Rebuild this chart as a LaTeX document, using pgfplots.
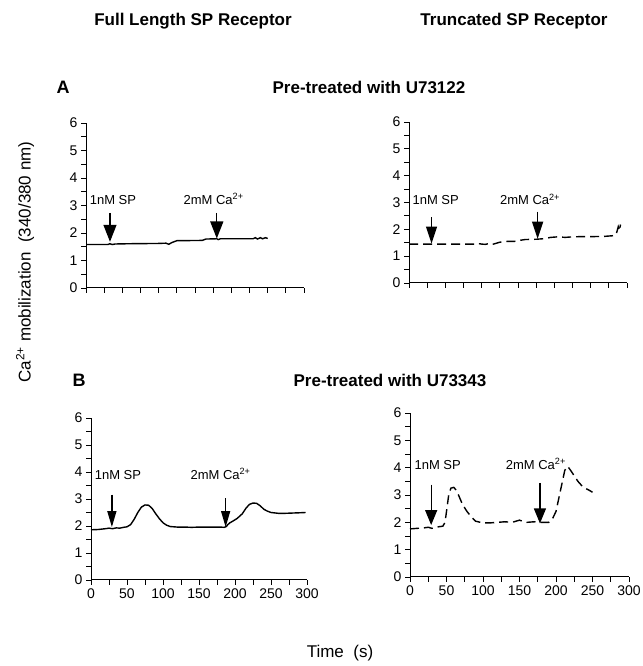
\documentclass[border=0pt]{standalone}
\usepackage{pgfplots}
\pgfplotsset{compat=1.18}
\usepackage{fontspec}
\setmainfont{Liberation Sans}
\usetikzlibrary{arrows.meta}

\pgfplotsset{
  trace/.style={
    scale only axis, anchor=south west, clip=false,
    axis x line=bottom, axis y line=left, axis line style={-, line width=1pt},
    xmin=0, xmax=300, ymin=0, ymax=6,
    xtick={0,50,...,300}, minor x tick num=1,
    ytick={0,1,...,6}, minor y tick num=1,
    tick align=outside, major tick length=5pt, minor tick length=5pt,
    tick style={black, line width=0.9pt}, minor tick style={black, line width=0.9pt},
    tick label style={font=\fontsize{14}{14}\selectfont},
    /pgf/number format/assume math mode=true,
  },
  notick/.style={xticklabels={}},
  solidtrace/.style={black, line width=1.4pt},
  dashtrace/.style={black, line width=1.4pt, dash pattern=on 9pt off 5pt},
}
\tikzset{
  lab/.style={anchor=base west, inner sep=0pt, font=\fontsize{13}{13}\selectfont},
}

\begin{document}
\begin{tikzpicture}[x=1pt, y=1pt]
\useasboundingbox (0,0) rectangle (642,666);

% column and row headings
\node[font=\bfseries\fontsize{17}{17}\selectfont] at (193,645) {Full Length SP Receptor};
\node[font=\bfseries\fontsize{17}{17}\selectfont] at (514,645) {Truncated SP Receptor};
\node[font=\bfseries\fontsize{18}{18}\selectfont] at (63,579) {A};
\node[font=\bfseries\fontsize{17}{17}\selectfont] at (369,579) {Pre-treated with U73122};
\node[font=\bfseries\fontsize{18}{18}\selectfont] at (79,286) {B};
\node[font=\bfseries\fontsize{17}{17}\selectfont] at (390,286) {Pre-treated with U73343};
\node[rotate=90, font=\fontsize{17}{17}\selectfont] at (25,404) {Ca\textsuperscript{2+} mobilization\ \ (340/380 nm)};
\node[font=\fontsize{17}{17}\selectfont] at (340,13) {Time\ \ (s)};

% A, full length
\begin{axis}[trace, notick, at={(86pt,378pt)}, width=218pt, height=165pt]
\addplot[solidtrace] coordinates {(0,1.58) (30,1.58) (33,1.61) (36,1.58) (40,1.60) (60,1.61) (100,1.62) (110,1.63) (114,1.59) (118,1.65) (125,1.72) (160,1.73) (165,1.78) (180,1.79) (182,1.76) (185,1.79) (230,1.79) (233,1.83) (236,1.78) (240,1.83) (243,1.79) (247,1.83) (250,1.80)};
\draw[line width=1.3pt, -{Triangle[length=17pt, width=13pt]}] (axis cs:33,2.73) -- (axis cs:33,1.68);
\draw[line width=1.3pt, -{Triangle[length=17pt, width=13pt]}] (axis cs:180,2.73) -- (axis cs:180,1.80);
\node[lab] at (axis cs:5,3.05) {1nM SP};
\node[lab] at (axis cs:134,3.05) {2mM Ca\textsuperscript{2+}};
\end{axis}

% A, truncated
\begin{axis}[trace, notick, at={(409pt,383pt)}, width=218pt, height=161pt]
\addplot[dashtrace] coordinates {(0,1.45) (50,1.45) (90,1.45) (95,1.47) (100,1.45) (105,1.44) (110,1.47) (115,1.44) (125,1.52) (135,1.55) (145,1.55) (150,1.58) (160,1.62) (175,1.63) (185,1.65) (195,1.70) (205,1.72) (215,1.70) (225,1.72) (240,1.73) (255,1.73) (270,1.74) (280,1.76) (285,1.80) (288,2.10) (290,1.95) (291,2.18)};
\draw[line width=1.3pt, -{Triangle[length=17pt, width=11pt]}] (axis cs:31,2.45) -- (axis cs:31,1.47);
\draw[line width=1.3pt, -{Triangle[length=17pt, width=11pt]}] (axis cs:177,2.66) -- (axis cs:177,1.65);
\node[lab] at (axis cs:4.6,2.93) {1nM SP};
\node[lab] at (axis cs:125,2.93) {2mM Ca\textsuperscript{2+}};
\end{axis}

% B, full length
\begin{axis}[trace, at={(91pt,86pt)}, width=216pt, height=162pt]
\addplot[solidtrace] coordinates {(0,1.86) (10,1.87) (20,1.90) (25,1.92) (30,1.90) (35,1.93) (40,1.92) (45,1.95) (50,1.97) (55,2.05) (60,2.25) (65,2.50) (70,2.70) (75,2.78) (80,2.77) (85,2.65) (90,2.45) (95,2.27) (100,2.12) (105,2.03) (110,1.98) (120,1.96) (130,1.96) (140,1.95) (150,1.96) (160,1.96) (170,1.96) (180,1.96) (185,1.95) (188,1.98) (190,2.05) (193,2.12) (197,2.18) (203,2.28) (210,2.45) (215,2.65) (220,2.80) (225,2.85) (230,2.84) (235,2.75) (240,2.62) (245,2.55) (250,2.50) (260,2.47) (270,2.47) (280,2.48) (290,2.49) (298,2.50)};
\draw[line width=1.3pt, -{Triangle[length=16pt, width=9pt]}] (axis cs:29,3.16) -- (axis cs:29,1.96);
\draw[line width=1.3pt, -{Triangle[length=16pt, width=9pt]}] (axis cs:187,3.03) -- (axis cs:187,1.96);
\node[lab] at (axis cs:5,3.74) {1nM SP};
\node[lab] at (axis cs:138,3.74) {2mM Ca\textsuperscript{2+}};
\end{axis}

% B, truncated
\begin{axis}[trace, at={(410pt,89pt)}, width=219pt, height=164pt]
\addplot[dashtrace] coordinates {(0,1.76) (10,1.78) (20,1.80) (25,1.82) (30,1.78) (35,1.82) (40,1.84) (45,1.86) (48,2.00) (50,2.40) (53,3.00) (56,3.25) (60,3.28) (64,3.15) (68,2.90) (72,2.65) (78,2.40) (84,2.20) (90,2.04) (100,1.98) (110,1.98) (120,2.00) (130,2.02) (140,2.00) (145,2.04) (150,2.08) (155,2.03) (160,2.00) (170,2.02) (180,2.00) (190,2.00) (195,2.12) (200,2.40) (204,2.90) (208,3.40) (212,3.90) (216,4.05) (220,3.90) (225,3.70) (230,3.50) (235,3.35) (240,3.25) (245,3.18) (250,3.10)};
\draw[line width=1.3pt, -{Triangle[length=15pt, width=12pt]}] (axis cs:29,3.38) -- (axis cs:29,1.90);
\draw[line width=1.3pt, -{Triangle[length=15pt, width=12pt]}] (axis cs:178,3.44) -- (axis cs:178,1.96);
\node[lab] at (axis cs:6,3.95) {1nM SP};
\node[lab] at (axis cs:131,3.95) {2mM Ca\textsuperscript{2+}};
\end{axis}
\end{tikzpicture}
\end{document}
